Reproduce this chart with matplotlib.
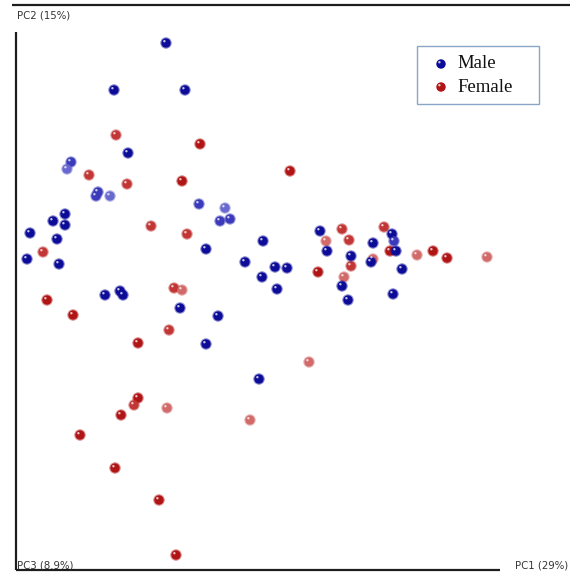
import matplotlib
matplotlib.use("Agg")
import matplotlib.pyplot as plt
from matplotlib.patches import Rectangle
from matplotlib.transforms import offset_copy

# ---- data (positions in plot units) ----
male_x = [166, 114, 185, 128, 71, 67, 98, 96, 110, 199, 225, 220, 230, 65, 53, 65, 30, 57, 27, 59,
          206, 263, 245, 275, 287, 262, 277, 105, 120, 123, 180, 218, 206, 259, 320, 327, 351, 373,
          392, 394, 396, 371, 402, 342, 348, 393]
male_y = [43, 90, 90, 153, 162, 169, 192, 196, 196, 204, 208, 221, 219, 214, 221, 225, 233, 239, 259, 264,
          249, 241, 262, 267, 268, 277, 289, 295, 291, 295, 308, 316, 344, 379, 231, 251, 256, 243,
          234, 241, 251, 262, 269, 286, 300, 294]
male_depth = [0, 0, 0, 0, 1, 2, 1, 1, 2, 1, 2, 1, 1, 0, 0, 0, 0, 0, 0, 0,
              0, 0, 0, 0, 0, 0, 0, 0, 0, 0, 0, 0, 0, 0, 0, 0, 0, 0,
              0, 1, 0, 0, 0, 0, 0, 0]

female_x = [116, 200, 290, 89, 127, 182, 151, 187, 43, 174, 182, 47, 73, 169, 138, 309, 138, 134, 121,
            167, 250, 80, 115, 159, 176, 342, 326, 349, 384, 373, 390, 417, 433, 447, 487, 351, 318, 344]
female_y = [135, 144, 171, 175, 184, 181, 226, 234, 252, 288, 290, 300, 315, 330, 343, 362, 398, 405, 415,
            408, 420, 435, 468, 500, 555, 229, 241, 240, 227, 259, 251, 255, 251, 258, 257, 266, 272, 277]
female_depth = [1, 0, 0, 1, 1, 0, 1, 1, 1, 1, 2, 0, 0, 1, 0, 2, 0, 1, 0,
                2, 2, 0, 0, 0, 0, 1, 2, 1, 1, 2, 0, 2, 0, 0, 2, 1, 0, 2]

groups = ["Male", "Female"]
axis_labels = ["PC1 (29%)", "PC2 (15%)", "PC3 (8.9%)"]

blue_shades = ["#0c0c98", "#3a3abb", "#6868cf"]
red_shades = ["#b01414", "#c23636", "#d26a6a"]

fig = plt.figure(figsize=(5.70, 5.76), dpi=100)
ax = fig.add_axes([0, 0, 1, 1])
ax.set_xlim(0, 570)
ax.set_ylim(576, 0)
ax.axis("off")

hl = offset_copy(ax.transData, fig=fig, x=-1.6, y=1.8, units="dots")


def spheres(xs, ys, depth, shades):
    cols = [shades[d] for d in depth]
    ax.scatter(xs, ys, s=60, c=cols, edgecolors=cols, linewidths=0.6, alpha=0.35, zorder=3)
    ax.scatter(xs, ys, s=46, c=cols, edgecolors="none", zorder=3)
    ax.scatter(xs, ys, s=3, c="white", edgecolors="none", alpha=0.75, transform=hl, zorder=4)


spheres(female_x, female_y, female_depth, red_shades)
spheres(male_x, male_y, male_depth, blue_shades)

# frame lines
lc = "#1e1e1e"
ax.plot([12, 570], [5, 5], color=lc, lw=1.6, solid_capstyle="butt", zorder=1)
ax.plot([16, 16], [32, 570], color=lc, lw=1.6, solid_capstyle="butt", zorder=1)
ax.plot([16, 500], [570, 570], color=lc, lw=1.6, solid_capstyle="butt", zorder=1)

tfont = dict(family="DejaVu Sans", fontsize=7.3, color="#333333")
ax.text(17, 16, axis_labels[1], ha="left", va="center", **tfont)
ax.text(17, 565, axis_labels[2], ha="left", va="center", **tfont)
ax.text(515, 565, axis_labels[0], ha="left", va="center", **tfont)

# legend box
ax.add_patch(Rectangle((417, 46), 122, 58, facecolor="white", edgecolor="#8aa6c6", lw=1.0, zorder=5))
leg_y = [64, 87]
leg_cols = [blue_shades[0], red_shades[0]]
for name, yy, cc in zip(groups, leg_y, leg_cols):
    ax.scatter([441], [yy], s=46, c=cc, edgecolors="none", zorder=6)
    ax.scatter([441], [yy], s=3, c="white", edgecolors="none", alpha=0.75, transform=hl, zorder=7)
    ax.text(457, yy, name, ha="left", va="center", family="Liberation Serif",
            fontsize=13.5, color="#111111", zorder=6)

fig.savefig("out.png", dpi=100)
